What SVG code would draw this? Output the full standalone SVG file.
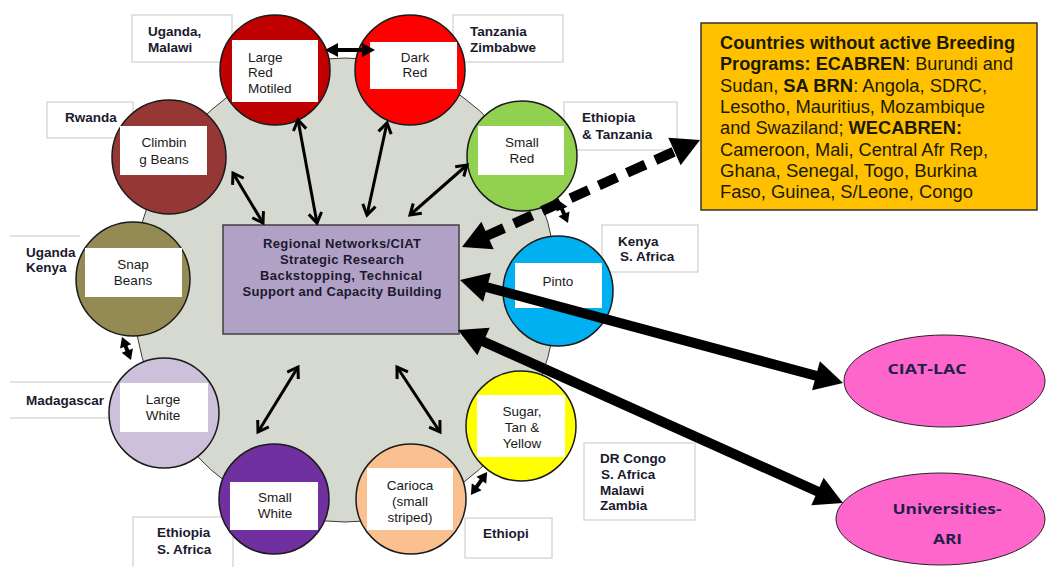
<svg xmlns="http://www.w3.org/2000/svg" width="1047" height="567" viewBox="0 0 1047 567">
<style>
.t{font-family:"Liberation Sans",Arial,sans-serif;font-size:13.5px;fill:#1a1a1a}
.c{text-anchor:middle}
.lb{font-family:"Liberation Sans",Arial,sans-serif;font-size:13.5px;font-weight:bold;fill:#1a1a2e}
.box{fill:#fff;stroke:#d9d9d9;stroke-width:1.5}
.circ{stroke:#1a1a1a;stroke-width:1.5}
.wr{fill:#fff}
.thin{stroke:#000;stroke-width:3;fill:none;marker-start:url(#chev);marker-end:url(#chev)}
.stub{stroke:#000;stroke-width:4;marker-start:url(#sm);marker-end:url(#sm)}
.big{stroke:#000;stroke-width:10;fill:none;marker-start:url(#bh);marker-end:url(#bh)}
.org{font-family:"Liberation Sans",Arial,sans-serif;font-size:17.5px;fill:#1a1a00}
.b{font-weight:bold}
.el{font-family:"Open Sans","Liberation Sans",sans-serif;font-size:15px;font-weight:bold;fill:#1f1f4a;text-anchor:middle}
.ctr{font-family:"Liberation Sans",Arial,sans-serif;font-size:13px;font-weight:bold;fill:#1a1a2e;text-anchor:middle}
</style>
<defs>
<marker id="chev" markerUnits="userSpaceOnUse" viewBox="-13 -9 16 18" refX="0" refY="0" markerWidth="16" markerHeight="18" orient="auto-start-reverse">
<path d="M-10,-6.5 L0,0 L-10,6.5" fill="none" stroke="#000" stroke-width="3"/>
</marker>
<marker id="bh" markerUnits="userSpaceOnUse" viewBox="-3 -16 31 32" refX="0" refY="0" markerWidth="31" markerHeight="32" orient="auto-start-reverse">
<path d="M-2,-15 L26,0 L-2,15z" fill="#000"/>
</marker>
<marker id="sm" markerUnits="userSpaceOnUse" viewBox="-2 -7 12 14" refX="0" refY="0" markerWidth="12" markerHeight="14" orient="auto-start-reverse">
<path d="M-1,-6 L9,0 L-1,6z" fill="#000"/>
</marker>
<marker id="mh" markerUnits="userSpaceOnUse" viewBox="-2 -8 15 16" refX="0" refY="0" markerWidth="15" markerHeight="16" orient="auto-start-reverse">
<path d="M-1,-7 L12,0 L-1,7z" fill="#000"/>
</marker>
</defs>
<rect width="1047" height="567" fill="#fff"/>

<g id="hub-background">
<ellipse cx="345" cy="290" rx="212" ry="232" fill="#d6d9d0" stroke="#3a3a3a" stroke-width="1"/>
</g>

<g id="label-uganda-malawi">
<rect class="box" x="132" y="15" width="100" height="47"/>
<text class="lb" x="148" y="36">Uganda,</text>
<text class="lb" x="148" y="52">Malawi</text>
</g>
<g id="label-tanzania-zimbabwe">
<rect class="box" x="453" y="15" width="110" height="47"/>
<text class="lb" x="470" y="36">Tanzania</text>
<text class="lb" x="470" y="52">Zimbabwe</text>
</g>
<g id="label-rwanda">
<rect class="box" x="47" y="102" width="86" height="36"/>
<text class="lb" x="65" y="122">Rwanda</text>
</g>
<g id="label-ethiopia-tanzania">
<rect class="box" x="564" y="102" width="113" height="48"/>
<text class="lb" x="582" y="122">Ethiopia</text>
<text class="lb" x="582" y="139">&amp; Tanzania</text>
</g>
<g id="label-kenya-safrica">
<rect class="box" x="602" y="225" width="96" height="47"/>
<text class="lb" x="618" y="246">Kenya</text>
<text class="lb" x="620" y="261">S. Africa</text>
</g>
<g id="label-madagascar">
<line x1="10" y1="382" x2="112" y2="382" stroke="#d9d9d9" stroke-width="1.5"/>
<line x1="10" y1="418" x2="112" y2="418" stroke="#d9d9d9" stroke-width="1.5"/>
</g>
<g id="label-ethiopia-safrica">
<rect class="box" x="133" y="517" width="100" height="55"/>
<text class="lb" x="157" y="537">Ethiopia</text>
<text class="lb" x="157" y="554">S. Africa</text>
</g>
<g id="label-ethiopi">
<rect class="box" x="465" y="518" width="87" height="40"/>
<text class="lb" x="483" y="538">Ethiopi</text>
</g>
<g id="label-drcongo">
<rect class="box" x="584" y="443" width="111" height="77"/>
<text class="lb" x="600" y="463">DR Congo</text>
<text class="lb" x="601" y="479">S. Africa</text>
<text class="lb" x="600" y="495">Malawi</text>
<text class="lb" x="600" y="510">Zambia</text>
</g>

<g id="node-large-red-mottled">
<circle class="circ" cx="275" cy="70" r="55" fill="#c00000"/>
<rect class="wr" x="232" y="40" width="86" height="62"/>
<text class="t" x="248" y="61.5">Large</text>
<text class="t" x="248" y="77">Red</text>
<text class="t" x="248" y="92.5">Motiled</text>
</g>
<g id="node-dark-red">
<circle class="circ" cx="410" cy="70" r="55" fill="#ff0000"/>
<rect class="wr" x="370" y="42" width="87" height="47"/>
<text class="t c" x="415" y="61.5">Dark</text>
<text class="t c" x="415" y="77">Red</text>
</g>
<g id="node-climbing-beans">
<circle class="circ" cx="169" cy="157" r="57" fill="#953735"/>
<rect class="wr" x="120" y="126" width="87" height="49"/>
<text class="t c" x="164" y="146.5">Climbin</text>
<text class="t c" x="164" y="163.5">g Beans</text>
</g>
<g id="node-snap-beans">
<circle class="circ" cx="133" cy="279" r="57" fill="#948a54"/>
<rect class="wr" x="85" y="248" width="97" height="49"/>
<text class="t c" x="133" y="268.5">Snap</text>
<text class="t c" x="133" y="284.5">Beans</text>
</g>
<g id="node-large-white">
<circle class="circ" cx="164" cy="413" r="55" fill="#ccc0da"/>
<rect class="wr" x="120" y="383" width="88" height="49"/>
<text class="t c" x="163" y="403.5">Large</text>
<text class="t c" x="163" y="419.5">White</text>
</g>
<g id="node-small-white">
<circle class="circ" cx="274" cy="499" r="55" fill="#7030a0"/>
<rect class="wr" x="230" y="482" width="88" height="48"/>
<text class="t c" x="275" y="501.5">Small</text>
<text class="t c" x="275" y="517.5">White</text>
</g>
<g id="node-carioca">
<circle class="circ" cx="411" cy="499" r="55" fill="#fac090"/>
<rect class="wr" x="367" y="468" width="86" height="62"/>
<text class="t c" x="410" y="489.5">Carioca</text>
<text class="t c" x="410" y="506">(small</text>
<text class="t c" x="410" y="521.5">striped)</text>
</g>
<g id="node-sugar-tan-yellow">
<circle class="circ" cx="521" cy="426" r="55" fill="#ffff00"/>
<rect class="wr" x="477" y="395" width="88" height="62"/>
<text class="t c" x="522" y="415.5">Sugar,</text>
<text class="t c" x="522" y="431.5">Tan &amp;</text>
<text class="t c" x="522" y="447.5">Yellow</text>
</g>
<g id="node-pinto">
<circle class="circ" cx="558" cy="291" r="55" fill="#00b0f0"/>
<rect class="wr" x="515" y="263" width="87" height="45"/>
<text class="t c" x="558" y="285.5">Pinto</text>
</g>
<g id="node-small-red">
<circle class="circ" cx="522" cy="156" r="55" fill="#92d050"/>
<rect class="wr" x="478" y="126" width="86" height="49"/>
<text class="t c" x="522" y="146.5">Small</text>
<text class="t c" x="522" y="162.5">Red</text>
</g>

<g id="label-uganda-kenya">
<line x1="10" y1="236" x2="80" y2="236" stroke="#d9d9d9" stroke-width="1.5"/>
<text class="lb" x="26" y="257">Uganda</text>
<text class="lb" x="26" y="272">Kenya</text>
</g>
<g id="label-madagascar-text">
<text class="lb" x="26" y="404.5">Madagascar</text>
</g>

<g id="node-regional-networks">
<rect x="223" y="225" width="236" height="109" fill="#b2a1c7" stroke="#404040" stroke-width="1.5"/>
<text class="ctr" x="342" y="247.5" textLength="158" lengthAdjust="spacing">Regional Networks/CIAT</text>
<text class="ctr" x="342" y="263.5" textLength="124" lengthAdjust="spacing">Strategic Research</text>
<text class="ctr" x="341" y="279.5" textLength="162" lengthAdjust="spacing">Backstopping, Technical</text>
<text class="ctr" x="342" y="295.5" textLength="199" lengthAdjust="spacing">Support and Capacity Building</text>
</g>

<g id="node-countries-without-programs">
<rect x="701" y="23" width="336" height="187" fill="#ffc000" stroke="#333" stroke-width="1.5"/>
<text class="org b" x="720" y="49" textLength="295" lengthAdjust="spacingAndGlyphs">Countries without active Breeding</text>
<text class="org" x="720" y="70.3" textLength="293" lengthAdjust="spacingAndGlyphs"><tspan class="b">Programs: ECABREN</tspan>: Burundi and</text>
<text class="org" x="720" y="91.6" textLength="267" lengthAdjust="spacingAndGlyphs">Sudan, <tspan class="b">SA BRN</tspan>: Angola, SDRC,</text>
<text class="org" x="720" y="112.9" textLength="265" lengthAdjust="spacingAndGlyphs">Lesotho, Mauritius, Mozambique</text>
<text class="org" x="720" y="134.2" textLength="242" lengthAdjust="spacingAndGlyphs">and Swaziland; <tspan class="b">WECABREN:</tspan></text>
<text class="org" x="720" y="155.5" textLength="268" lengthAdjust="spacingAndGlyphs">Cameroon, Mali, Central Afr Rep,</text>
<text class="org" x="720" y="176.8" textLength="257" lengthAdjust="spacingAndGlyphs">Ghana, Senegal, Togo, Burkina</text>
<text class="org" x="720" y="198.1" textLength="253" lengthAdjust="spacingAndGlyphs">Faso, Guinea, S/Leone, Congo</text>
</g>

<g id="node-ciat-lac">
<ellipse cx="944.5" cy="381" rx="100.5" ry="46" fill="#ff66cc" stroke="#222" stroke-width="1"/>
<text class="el" x="927" y="373.5" textLength="79" lengthAdjust="spacingAndGlyphs">CIAT-LAC</text>
</g>
<g id="node-universities-ari">
<ellipse cx="940.5" cy="519" rx="104.5" ry="46" fill="#ff66cc" stroke="#222" stroke-width="1"/>
<text class="el" x="947" y="513.5" textLength="109" lengthAdjust="spacingAndGlyphs">Universities-</text>
<text class="el" x="947.5" y="543.5" textLength="29" lengthAdjust="spacingAndGlyphs">ARI</text>
</g>

<g id="connectors">
<line class="thin" x1="233" y1="173" x2="263" y2="223"/>
<line class="thin" x1="298" y1="120" x2="317" y2="223"/>
<line class="thin" x1="387" y1="123" x2="367" y2="215"/>
<line class="thin" x1="467" y1="165" x2="410" y2="215"/>
<line class="thin" x1="298" y1="367" x2="258" y2="432"/>
<line class="thin" x1="397" y1="367" x2="440" y2="432"/>
<line stroke="#000" stroke-width="4" x1="337" y1="50" x2="363" y2="50" marker-start="url(#mh)" marker-end="url(#mh)"/>
<line class="stub" x1="125.3" y1="345.4" x2="127.7" y2="351.6"/>
<line class="stub" x1="481.9" y1="479.4" x2="476.1" y2="487.6"/>
<line class="stub" x1="561.6" y1="208.3" x2="564.4" y2="214.7"/>
<line class="big" stroke-width="9" stroke-dasharray="20 11" x1="485.7" y1="236.3" x2="676.3" y2="150.7"/>
<line class="big" x1="485.1" y1="286.75" x2="817.9" y2="376.25"/>
<line class="big" x1="481.7" y1="340.7" x2="819.3" y2="492.3"/>
</g>
</svg>
